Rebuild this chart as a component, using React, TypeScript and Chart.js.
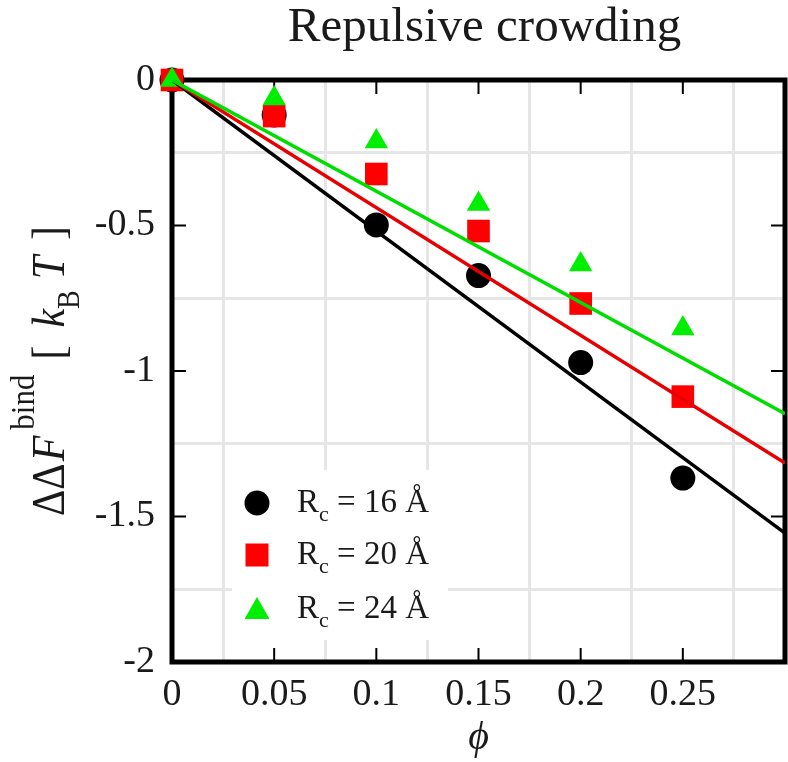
import React, { useEffect, useRef } from 'react';
import { Chart, registerables } from 'chart.js';

Chart.register(...registerables);

// ---------- data ----------
const PHI = [0, 0.05, 0.1, 0.15, 0.2, 0.25];
const RC16 = [0, -0.12, -0.498, -0.672, -0.971, -1.368];
const RC20 = [0, -0.124, -0.323, -0.519, -0.768, -1.088];
const RC24 = [0, -0.064, -0.211, -0.426, -0.634, -0.854];

const FIT_PHI = [0, 0.3];
const FIT16 = [0, -1.557];
const FIT20 = [0, -1.316];
const FIT24 = [0, -1.147];

const X_TICKS = [0, 0.05, 0.1, 0.15, 0.2, 0.25];
const Y_TICKS = [0, -0.5, -1, -1.5, -2];
const LEGEND_VALUES = ['16 Å', '20 Å', '24 Å'];
const TITLE = 'Repulsive crowding';

const FONT = "'Liberation Serif', 'Times New Roman', serif";
const TEXT = '#1a1a1a';

const pts = (xs: number[], ys: number[]) => xs.map((x, i) => ({ x, y: ys[i] }));
const isTick = (list: number[], v: number) => list.some((t) => Math.abs(t - v) < 1e-6);
const fmt = (v: number) => {
  const r = Math.round(v * 1000) / 1000;
  return r === 0 ? '0' : String(r);
};

const framePlugin = {
  id: 'frame',
  beforeDatasetsDraw(chart: any) {
    const { ctx, chartArea } = chart;
    const { left, right, top, bottom } = chartArea;
    const xs = chart.scales.x;
    const ys = chart.scales.y;
    ctx.save();
    ctx.strokeStyle = '#000';
    ctx.lineWidth = 2;
    const tl = 14;
    ctx.beginPath();
    X_TICKS.forEach((v) => {
      const px = xs.getPixelForValue(v);
      ctx.moveTo(px, bottom);
      ctx.lineTo(px, bottom - tl);
      ctx.moveTo(px, top);
      ctx.lineTo(px, top + tl);
    });
    Y_TICKS.forEach((v) => {
      const py = ys.getPixelForValue(v);
      ctx.moveTo(left, py);
      ctx.lineTo(left + tl, py);
      ctx.moveTo(right, py);
      ctx.lineTo(right - tl, py);
    });
    ctx.stroke();
    ctx.lineWidth = 5;
    ctx.strokeRect(left, top, right - left, bottom - top);
    ctx.restore();
  },
};

const titlePlugin = {
  id: 'customTitle',
  afterDraw(chart: any) {
    const { ctx, chartArea } = chart;
    ctx.save();
    ctx.font = `49px ${FONT}`;
    ctx.fillStyle = TEXT;
    ctx.textAlign = 'center';
    ctx.textBaseline = 'alphabetic';
    ctx.fillText(TITLE, (chartArea.left + chartArea.right) / 2 + 6, 41);
    ctx.restore();
  },
};

const yLabelPlugin = {
  id: 'yLabel',
  afterDraw(chart: any) {
    const { ctx, chartArea } = chart;
    const segs = [
      { t: 'ΔΔ', size: 41, italic: false, dy: 0, gap: 0 },
      { t: 'F', size: 42, italic: true, dy: 0, gap: 2 },
      { t: 'bind', size: 31, italic: false, dy: -27, gap: 6 },
      { t: '[', size: 42, italic: false, dy: 0, gap: 15 },
      { t: 'k', size: 42, italic: true, dy: 0, gap: 18 },
      { t: 'B', size: 28, italic: false, dy: 13, gap: 0 },
      { t: 'T', size: 42, italic: true, dy: 0, gap: 11 },
      { t: ']', size: 42, italic: false, dy: 0, gap: 16 },
    ];
    ctx.save();
    let total = 0;
    const widths = segs.map((s) => {
      ctx.font = `${s.italic ? 'italic ' : ''}${s.size}px ${FONT}`;
      const w = ctx.measureText(s.t).width;
      total += w + s.gap;
      return w;
    });
    const cy = (chartArea.top + chartArea.bottom) / 2;
    ctx.translate(64, cy);
    ctx.rotate(-Math.PI / 2);
    ctx.scale(1, 1.12);
    ctx.fillStyle = TEXT;
    ctx.textAlign = 'left';
    ctx.textBaseline = 'alphabetic';
    let x = -total / 2;
    segs.forEach((s, i) => {
      x += s.gap;
      ctx.font = `${s.italic ? 'italic ' : ''}${s.size}px ${FONT}`;
      ctx.fillText(s.t, x, s.dy);
      x += widths[i];
    });
    ctx.restore();
  },
};

const legendPlugin = {
  id: 'customLegend',
  afterDatasetsDraw(chart: any) {
    const { ctx, chartArea } = chart;
    const bx = chartArea.left + 60;
    const by = chartArea.top + 390;
    ctx.save();
    ctx.fillStyle = '#ffffff';
    ctx.fillRect(bx, by, 216, 170);
    const mx = bx + 25;
    const rows = [by + 33, by + 85, by + 139];
    ctx.fillStyle = '#000000';
    ctx.beginPath();
    ctx.arc(mx, rows[0], 12.5, 0, Math.PI * 2);
    ctx.fill();
    ctx.fillStyle = '#ff0000';
    ctx.fillRect(mx - 11.5, rows[1] - 11.5, 23, 23);
    ctx.fillStyle = '#00ee00';
    ctx.beginPath();
    ctx.moveTo(mx, rows[2] - 12);
    ctx.lineTo(mx - 12.5, rows[2] + 10);
    ctx.lineTo(mx + 12.5, rows[2] + 10);
    ctx.closePath();
    ctx.fill();
    ctx.fillStyle = TEXT;
    ctx.textAlign = 'left';
    ctx.textBaseline = 'alphabetic';
    rows.forEach((ry, i) => {
      const base = ry + 9;
      let x = bx + 65;
      ctx.font = `33px ${FONT}`;
      ctx.fillText('R', x, base);
      x += ctx.measureText('R').width;
      ctx.font = `22px ${FONT}`;
      ctx.fillText('c', x, base + 9);
      x += ctx.measureText('c').width;
      ctx.font = `33px ${FONT}`;
      ctx.fillText(' = ' + LEGEND_VALUES[i], x, base);
    });
    ctx.restore();
  },
};

export default function App() {
  const ref = useRef<HTMLCanvasElement | null>(null);

  useEffect(() => {
    if (!ref.current) return;
    const chart = new Chart(ref.current, {
      type: 'scatter',
      data: {
        datasets: [
          {
            label: 'fit 24',
            data: pts(FIT_PHI, FIT24),
            showLine: true,
            borderColor: '#00dd00',
            borderWidth: 3.5,
            pointRadius: 0,
          },
          {
            label: 'fit 20',
            data: pts(FIT_PHI, FIT20),
            showLine: true,
            borderColor: '#e80000',
            borderWidth: 3.5,
            pointRadius: 0,
          },
          {
            label: 'fit 16',
            data: pts(FIT_PHI, FIT16),
            showLine: true,
            borderColor: '#000000',
            borderWidth: 3.5,
            pointRadius: 0,
          },
          {
            label: 'Rc = 24 Å',
            data: pts(PHI, RC24),
            pointStyle: 'triangle',
            pointRadius: 13.5,
            pointBackgroundColor: '#00ee00',
            pointBorderWidth: 0,
            borderColor: '#00ee00',
            clip: false,
          },
          {
            label: 'Rc = 20 Å',
            data: pts(PHI, RC20),
            pointStyle: 'rect',
            pointRadius: 16,
            pointBackgroundColor: '#ff0000',
            pointBorderWidth: 0,
            borderColor: '#ff0000',
            clip: false,
          },
          {
            label: 'Rc = 16 Å',
            data: pts(PHI, RC16),
            pointStyle: 'circle',
            pointRadius: 12.5,
            pointBackgroundColor: '#000000',
            pointBorderWidth: 0,
            borderColor: '#000000',
            clip: false,
          },
        ],
      },
      options: {
        responsive: false,
        animation: false,
        devicePixelRatio: 1,
        layout: { autoPadding: false, padding: { left: 0, right: 3, top: 80, bottom: 0 } },
        plugins: {
          legend: { display: false },
          title: { display: false },
          tooltip: { enabled: false },
        },
        scales: {
          x: {
            type: 'linear',
            min: 0,
            max: 0.3,
            afterFit: (s: any) => {
              s.height = 100;
              s.paddingLeft = 0;
              s.paddingRight = 0;
            },
            border: { display: false },
            grid: {
              drawTicks: false,
              lineWidth: 3,
              color: (c: any) => {
                const k = Math.round((c.tick ? c.tick.value : 0) / 0.025);
                return k % 2 !== 0 ? '#e6e6e6' : 'rgba(0,0,0,0)';
              },
            },
            ticks: {
              stepSize: 0.025,
              autoSkip: false,
              maxRotation: 0,
              padding: 10,
              color: TEXT,
              font: { family: FONT, size: 38 },
              callback: (v: any) => (isTick(X_TICKS, Number(v)) ? fmt(Number(v)) : ''),
            },
            title: {
              display: true,
              text: 'ϕ',
              color: TEXT,
              font: { family: FONT, size: 40, style: 'italic' },
              padding: { top: 0, bottom: 0 },
            },
          },
          y: {
            type: 'linear',
            min: -2,
            max: 0,
            afterFit: (s: any) => {
              s.width = 172;
              s.paddingTop = 0;
              s.paddingBottom = 0;
            },
            border: { display: false },
            grid: {
              drawTicks: false,
              lineWidth: 3,
              color: (c: any) => {
                const k = Math.round((c.tick ? c.tick.value : 0) / 0.25);
                return k % 2 !== 0 ? '#e6e6e6' : 'rgba(0,0,0,0)';
              },
            },
            ticks: {
              stepSize: 0.25,
              autoSkip: false,
              padding: 17,
              color: TEXT,
              font: { family: FONT, size: 38 },
              callback: (v: any) => (isTick(Y_TICKS, Number(v)) ? fmt(Number(v)) : ''),
            },
          },
        },
      },
      plugins: [framePlugin, legendPlugin, titlePlugin, yLabelPlugin],
    } as any);
    return () => chart.destroy();
  }, []);

  return (
    <div style={{ position: 'fixed', left: 0, top: 0, width: 788, height: 762, background: '#fff' }}>
      <canvas ref={ref} width={788} height={762} style={{ display: 'block', width: 788, height: 762 }} />
    </div>
  );
}
